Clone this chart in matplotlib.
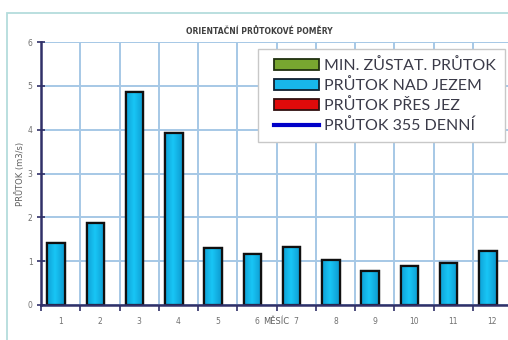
import matplotlib
matplotlib.use("Agg")
import matplotlib.pyplot as plt
import numpy as np
from matplotlib.patches import Patch, Rectangle
from matplotlib.lines import Line2D
from matplotlib.colors import LinearSegmentedColormap

# Monthly flow data (m3/s)
months = ["1", "2", "3", "4", "5", "6", "7", "8", "9", "10", "11", "12"]
flow_above_weir = [1.42, 1.88, 4.86, 3.92, 1.31, 1.16, 1.33, 1.03, 0.78, 0.89, 0.95, 1.24]
y_ticks = [0, 1, 2, 3, 4, 5, 6]
legend_labels = ["MIN. ZŮSTAT. PRŮTOK", "PRŮTOK NAD JEZEM", "PRŮTOK PŘES JEZ", "PRŮTOK 355 DENNÍ"]

W, H = 508, 340
fig = plt.figure(figsize=(W / 100, H / 100), dpi=100)
fig.patch.set_facecolor("white")

# outer chart frame
fig.add_artist(Rectangle((7 / W, -0.1), 1.2, (H - 13) / H + 0.1, transform=fig.transFigure,
                         fill=False, edgecolor="#b4dcdc", linewidth=1.3))

ax = fig.add_axes([41 / W, (H - 305) / H, (512 - 41) / W, (305 - 42) / H])
ax.set_facecolor("white")

n = len(months)
x = np.arange(n)
offset = -0.115
bars = ax.bar(x + offset, flow_above_weir, width=0.45, color="#14b4ea",
              edgecolor="#101010", linewidth=1.6, zorder=3)

# horizontal shading on each bar
grad = np.linspace(0, 1, 64)
shade = 1 - np.abs(grad - 0.45) * 1.4
cmap = LinearSegmentedColormap.from_list("cy", ["#0a8cc4", "#18c6f6"])
for b in bars:
    x0, y0 = b.get_x(), b.get_y()
    w, h = b.get_width(), b.get_height()
    im = ax.imshow(shade[np.newaxis, :], extent=[x0, x0 + w, y0, y0 + h], aspect="auto",
                   cmap=cmap, vmin=0, vmax=1, zorder=3.5, interpolation="bilinear")
    im.set_clip_path(b)
    ax.add_patch(Rectangle((x0, y0), w, h, fill=False, edgecolor="#101010",
                           linewidth=1.6, zorder=4))

ax.set_xlim(-0.5, n - 0.5)
ax.set_ylim(0, 6)

# category boundaries as vertical gridlines / ticks
ax.set_xticks(np.arange(-0.5, n, 1.0), minor=False)
ax.set_xticklabels([])
ax.set_xticks(x, minor=True)
ax.set_xticklabels(months, minor=True)
ax.set_yticks(y_ticks)
ax.set_yticklabels([str(v) for v in y_ticks])

ax.grid(True, which="major", color="#a6c8e6", linewidth=1.4, zorder=0)
ax.set_axisbelow(True)

for s in ["top", "right"]:
    ax.spines[s].set_visible(False)
for s in ["left", "bottom"]:
    ax.spines[s].set_color("#303068")
    ax.spines[s].set_linewidth(1.8)
    ax.spines[s].set_zorder(5)

ax.tick_params(axis="x", which="major", direction="out", length=4, width=1.2, color="#303068")
ax.tick_params(axis="x", which="minor", length=0, labelsize=5.5, labelcolor="#707070", pad=9)
ax.tick_params(axis="y", which="major", direction="inout", length=6, width=1.2, color="#303068",
               labelsize=5.5, labelcolor="#707070", pad=3)

ax.set_xlabel("MĚSÍC", fontsize=6, color="#606060", labelpad=-7)
ax.set_ylabel("PRŮTOK (m3/s)", fontsize=6, color="#606060", labelpad=2)

fig.text(259 / W, 1 - 31 / H, "ORIENTAČNÍ PRŮTOKOVÉ POMĚRY", ha="center", va="center",
         fontsize=5.5, fontweight="bold", color="#404040")

# legend
fig.add_artist(Rectangle((258 / W, 1 - 142 / H), (505 - 258) / W, (142 - 49) / H,
                         transform=fig.transFigure, facecolor="white", edgecolor="#c8c8c8",
                         linewidth=1.0, zorder=10))
handles = [
    Patch(facecolor="#78a630", edgecolor="#203010", linewidth=1.3),
    Patch(facecolor="#18b6ea", edgecolor="#102030", linewidth=1.3),
    Patch(facecolor="#e00a0a", edgecolor="#301010", linewidth=1.3),
    Line2D([], [], color="#0000c8", linewidth=3),
]
leg = fig.legend(handles, legend_labels, loc="upper left",
                 bbox_to_anchor=(263 / W, 1 - 47 / H), bbox_transform=fig.transFigure,
                 frameon=False, handlelength=2.8, handleheight=0.72,
                 handletextpad=0.3, labelspacing=0.32, borderpad=0.2,
                 prop={"family": "Lato", "size": 11.5})
leg.set_zorder(11)
for t in leg.get_texts():
    t.set_color("#3a3a48")

fig.savefig("out.png", dpi=100)
